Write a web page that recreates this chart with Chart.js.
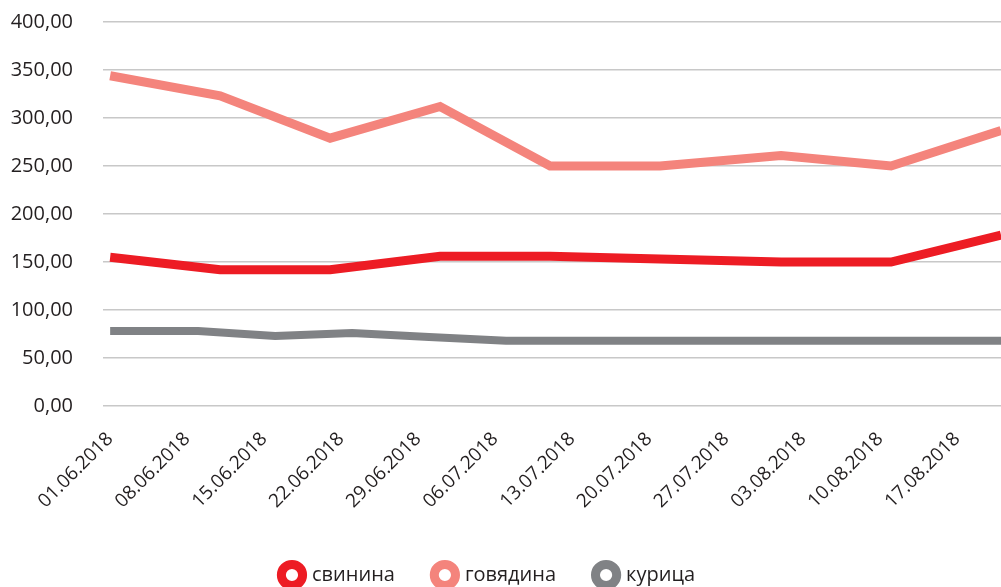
<!DOCTYPE html>
<html>
<head>
<meta charset="utf-8">
<script src="https://cdn.jsdelivr.net/npm/chart.js@4.4.0/dist/chart.umd.min.js"></script>
<style>
html, body { margin: 0; padding: 0; background: #fff; overflow: hidden; }
#wrap { width: 1001px; height: 595px; position: relative; }
</style>
</head>
<body>
<div id="wrap"><canvas id="main-chart"></canvas></div>
<script>
// weekly tick labels on the x axis
var tickLabels = ['01.06.2018', '08.06.2018', '15.06.2018', '22.06.2018', '29.06.2018', '06.07.2018',
	'13.07.2018', '20.07.2018', '27.07.2018', '03.08.2018', '10.08.2018', '17.08.2018'];

// pork and beef were sampled roughly every ten days
var meatDates = ['01.06.2018', '11.06.2018', '21.06.2018', '01.07.2018', '11.07.2018', '21.07.2018',
	'01.08.2018', '11.08.2018', '21.08.2018'];
var pork = [155, 142, 142, 156, 156, 153, 150, 150, 178];
var beef = [344, 323, 279, 312, 250, 250, 261, 250, 287];

// chicken has its own dates
var chickenDates = ['01.06.2018', '09.06.2018', '16.06.2018', '23.06.2018', '30.06.2018', '07.07.2018',
	'14.07.2018', '21.07.2018', '29.07.2018', '05.08.2018', '13.08.2018', '21.08.2018'];
var chicken = [78, 78, 73, 76, 72, 68, 68, 68, 68, 68, 68, 68];

var seriesNames = ['свинина', 'говядина', 'курица'];
var seriesColors = ['#ed1c24', '#f4847c', '#808285'];

var start = Date.UTC(2018, 5, 1);
function dayOf(s) {
	var p = s.split('.');
	return Math.round((Date.UTC(+p[2], +p[1] - 1, +p[0]) - start) / 86400000);
}
function points(dates, values) {
	return dates.map(function (d, i) { return { x: dayOf(d), y: values[i] }; });
}
function line(name, color, width, data) {
	return {
		label: name,
		data: data,
		borderColor: color,
		borderWidth: width,
		backgroundColor: color,
		fill: false,
		tension: 0,
		pointRadius: 0,
		pointHoverRadius: 0,
		pointStyle: 'circle',
		pointBackgroundColor: '#fff',
		pointBorderColor: color,
		pointBorderWidth: 9
	};
}

var font = '"Open Sans", "DejaVu Sans", sans-serif';
var textColor = '#231f20';
var legendPad = 40;

// the legend in the original sits a little left of centre
var legendShift = {
	id: 'legendShift',
	afterLayout: function (chart) {
		chart.legend.left -= 12;
		chart.legend.right -= 12;
	}
};

var ctx = document.getElementById('main-chart');
var chart = new Chart(ctx, {
	type: 'line',
	data: {
		datasets: [
			line(seriesNames[0], seriesColors[0], 9, points(meatDates, pork)),
			line(seriesNames[1], seriesColors[1], 9, points(meatDates, beef)),
			line(seriesNames[2], seriesColors[2], 8, points(chickenDates, chicken))
		]
	},
	plugins: [legendShift],
	options: {
		responsive: true,
		maintainAspectRatio: false,
		animation: false,
		layout: { padding: { top: 22, right: 0, left: 0, bottom: 0 } },
		plugins: {
			tooltip: { enabled: false },
			legend: {
				position: 'bottom',
				labels: {
					usePointStyle: true,
					boxHeight: 15,
					boxWidth: 20,
					padding: legendPad,
					color: textColor,
					font: { family: font, size: 20 }
				}
			}
		},
		scales: {
			x: {
				type: 'linear',
				min: -0.65,
				max: 81,
				grid: { display: false, drawTicks: false },
				border: { display: false },
				afterBuildTicks: function (scale) {
					scale.ticks = tickLabels.map(function (l) { return { value: dayOf(l) }; });
				},
				afterFit: function (scale) { scale.height = 595 - (20 + legendPad + 10) - 406; },
				ticks: {
					autoSkip: false,
					minRotation: 45,
					maxRotation: 45,
					padding: 22,
					color: textColor,
					font: { family: font, size: 19 },
					callback: function (v) {
						for (var i = 0; i < tickLabels.length; i++) {
							if (dayOf(tickLabels[i]) === v) return tickLabels[i];
						}
						return '';
					}
				}
			},
			y: {
				min: 0,
				max: 400,
				grid: { color: '#c8c8c8', lineWidth: 1.5, drawTicks: false },
				border: { display: false },
				afterFit: function (scale) {
					scale.width = 103;
					// tick padding would otherwise push the plot down
					scale.paddingTop = 0;
					scale.paddingBottom = 0;
				},
				ticks: {
					stepSize: 50,
					padding: 30,
					color: textColor,
					font: { family: font, size: 20 },
					callback: function (v) { return v.toFixed(2).replace('.', ','); }
				}
			}
		}
	}
});
</script>
</body>
</html>
